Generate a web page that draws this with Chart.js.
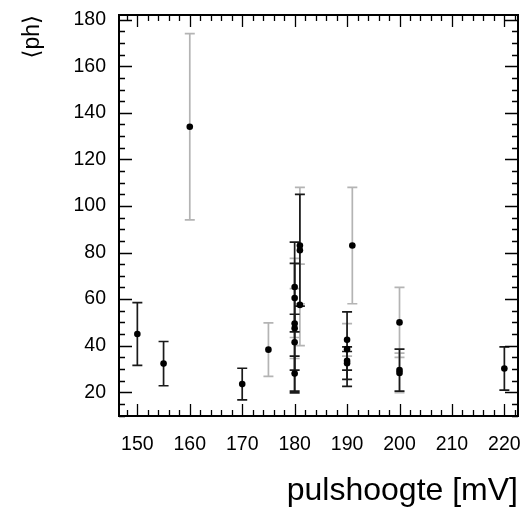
<!DOCTYPE html>
<html><head><meta charset="utf-8">
<script src="https://cdn.jsdelivr.net/npm/chart.js@4.4.1/dist/chart.umd.min.js"></script>
<style>html,body{margin:0;padding:0;background:#fff}</style>
</head><body>
<canvas id="c" width="523" height="512"></canvas>
<script>
// Dark (black) error-bar series
const darkX   = [150, 155, 170, 180, 180, 180, 180, 181, 190, 190, 190, 200, 220];
const darkY   = [45, 32.3, 23.5, 65.2, 47.5, 28, 41.5, 81, 38.5, 33.5, 32.5, 29.5, 30.2];
const darkErr = [13.5, 9.5, 6.8, 19.3, 27.8, 7.5, 12, 24, 16, 4, 7, 9, 9.3];
// Light (gray) error-bar series
const grayX   = [160, 175, 180, 180, 181, 181, 190, 191, 200, 200];
const grayY   = [134, 38.3, 60.5, 49.5, 83, 57.5, 42.5, 83, 50, 28.3];
const grayErr = [40, 11.5, 17, 15, 25, 17.5, 7, 25, 15, 8.5];
// Axis labels
const xTickLabels = [150, 160, 170, 180, 190, 200, 210, 220];
const yTickLabels = [20, 40, 60, 80, 100, 120, 140, 160, 180];
const xTitle = 'pulshoogte [mV]';
const yTitle = '\u27E8ph\u27E9';

const FONT = "'Liberation Sans', Arial, 'DejaVu Sans', sans-serif";

const errPlugin = {
  id: 'errbars',
  beforeDatasetsDraw(chart) {
    const {ctx, scales: {x, y}} = chart;
    const draw = (xs, ys, es, color) => {
      ctx.save();
      ctx.strokeStyle = color;
      ctx.lineWidth = 1.7;
      for (let i = 0; i < xs.length; i++) {
        const px = x.getPixelForValue(xs[i]);
        const t = y.getPixelForValue(ys[i] + es[i]);
        const b = y.getPixelForValue(ys[i] - es[i]);
        ctx.beginPath();
        ctx.moveTo(px, t); ctx.lineTo(px, b);
        ctx.moveTo(px - 5, t); ctx.lineTo(px + 5, t);
        ctx.moveTo(px - 5, b); ctx.lineTo(px + 5, b);
        ctx.stroke();
      }
      ctx.restore();
    };
    draw(grayX, grayY, grayErr, '#b4b4b4');
    draw(darkX, darkY, darkErr, '#1a1a1a');
  },
  afterDraw(chart) {
    const {ctx, chartArea: a, scales: {x, y}} = chart;
    ctx.save();
    ctx.strokeStyle = '#000';
    ctx.lineWidth = 1.3;
    ctx.beginPath();
    for (let v = Math.ceil(x.min / 2) * 2; v <= x.max; v += 2) {
      const px = Math.round(x.getPixelForValue(v)) + 0.5;
      const len = (v % 10 === 0) ? 12 : 6;
      ctx.moveTo(px, a.bottom); ctx.lineTo(px, a.bottom - len);
      ctx.moveTo(px, a.top); ctx.lineTo(px, a.top + len);
    }
    for (let v = Math.ceil(y.min / 5) * 5; v <= y.max; v += 5) {
      const py = Math.round(y.getPixelForValue(v)) + 0.5;
      const len = (v % 20 === 0) ? 13 : 6;
      ctx.moveTo(a.left, py); ctx.lineTo(a.left + len, py);
      ctx.moveTo(a.right, py); ctx.lineTo(a.right - len, py);
    }
    ctx.stroke();
    ctx.lineWidth = 2;
    ctx.strokeRect(a.left, a.top, a.right - a.left, a.bottom - a.top);
    ctx.restore();
  }
};

new Chart(document.getElementById('c'), {
  type: 'scatter',
  data: {
    datasets: [
      { data: grayX.map((v, i) => ({x: v, y: grayY[i]})), pointRadius: 3.3, pointHoverRadius: 3.3,
        backgroundColor: '#000', borderColor: '#000', borderWidth: 0 },
      { data: darkX.map((v, i) => ({x: v, y: darkY[i]})), pointRadius: 3.3, pointHoverRadius: 3.3,
        backgroundColor: '#000', borderColor: '#000', borderWidth: 0 }
    ]
  },
  options: {
    responsive: false,
    animation: false,
    events: [],
    layout: { padding: { top: 15, right: 5, left: 0, bottom: 0 } },
    plugins: { legend: { display: false }, tooltip: { enabled: false } },
    scales: {
      x: {
        type: 'linear', min: 146.5, max: 222.6,
        grid: { display: false, drawTicks: false },
        border: { display: false },
        afterBuildTicks: s => { s.ticks = xTickLabels.map(v => ({value: v})); },
        afterFit: s => { s.height = 96; s.paddingLeft = 0; s.paddingRight = 0; },
        ticks: { color: '#000', padding: 17, maxRotation: 0, font: { family: FONT, size: 19.5 } },
        title: { display: true, text: xTitle, align: 'end', color: '#000',
                 padding: { top: 0, bottom: 2 }, font: { family: FONT, size: 32 } }
      },
      y: {
        type: 'linear', min: 9.8, max: 182,
        grid: { display: false, drawTicks: false },
        border: { display: false },
        afterBuildTicks: s => { s.ticks = yTickLabels.map(v => ({value: v})); },
        afterFit: s => { s.width = 119; s.paddingTop = 0; s.paddingBottom = 0; },
        ticks: { color: '#000', padding: 13, font: { family: FONT, size: 19.5 } },
        title: { display: true, text: yTitle, align: 'end', color: '#000',
                 padding: { top: 19, bottom: 0 }, font: { family: FONT, size: 23 } }
      }
    }
  },
  plugins: [errPlugin]
});
</script>
</body></html>
